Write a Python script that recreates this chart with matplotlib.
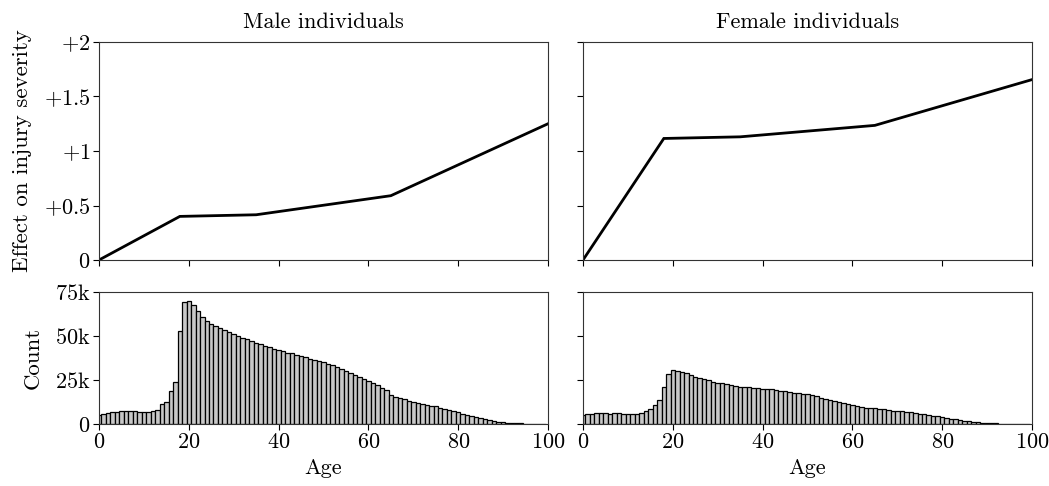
import matplotlib
matplotlib.use("Agg")
import matplotlib.pyplot as plt
import numpy as np

plt.rcParams['font.family'] = 'serif'
plt.rcParams['font.serif'] = ['cmr10']
plt.rcParams['mathtext.fontset'] = 'cm'
plt.rcParams['axes.unicode_minus'] = False
plt.rcParams['axes.formatter.use_mathtext'] = True

# Effect curves (piecewise linear, knots)
knot_ages = [0, 18, 35, 65, 100]
male_effect = [0.0, 0.40, 0.415, 0.59, 1.25]
female_effect = [0.0, 1.115, 1.13, 1.235, 1.655]

ages = list(range(100))
male_counts_k = [
    5.3, 5.9, 6.4, 6.8, 6.8, 7.2, 7.2, 7.4, 7.2, 7.0,
    7.0, 7.0, 7.2, 7.8, 11.2, 12.3, 19.0, 23.6, 52.6, 69.3,
    70.0, 67.4, 64.0, 60.8, 58.3, 57.0, 55.9, 54.4, 53.2, 52.3,
    51.1, 50.2, 48.9, 48.1, 47.2, 46.2, 45.5, 44.3, 43.6, 42.8,
    41.9, 41.5, 40.5, 40.1, 39.4, 38.6, 38.1, 37.1, 36.6, 35.8,
    35.2, 34.1, 33.3, 32.2, 31.3, 30.1, 29.0, 27.7, 26.7, 25.8,
    24.4, 23.3, 22.0, 20.6, 19.1, 16.3, 15.3, 14.6, 14.0, 13.2,
    12.6, 12.0, 11.5, 11.0, 10.5, 10.0, 9.3, 8.7, 8.0, 7.3,
    6.6, 5.9, 5.2, 4.5, 4.0, 3.4, 2.8, 2.2, 1.8, 1.4,
    1.0, 0.8, 0.6, 0.4, 0.3, 0.2, 0.15, 0.1, 0.08, 0.05,
]
female_counts_k = [
    4.9, 5.5, 5.9, 6.1, 6.1, 6.1, 5.9, 6.1, 6.1, 5.9,
    5.9, 5.9, 5.9, 6.3, 7.2, 8.5, 11.0, 13.4, 21.0, 28.6,
    30.4, 30.2, 29.7, 28.8, 27.6, 26.9, 26.3, 25.8, 25.0, 24.0,
    23.5, 23.1, 22.5, 22.0, 21.4, 21.0, 21.0, 20.8, 20.3, 20.3,
    20.1, 19.9, 19.7, 19.3, 18.9, 18.6, 18.2, 17.8, 17.6, 17.2,
    16.9, 16.3, 15.7, 15.0, 14.4, 13.8, 13.3, 12.7, 12.1, 11.4,
    10.8, 10.4, 9.8, 9.3, 9.1, 8.9, 8.7, 8.3, 8.0, 7.6,
    7.4, 7.2, 7.0, 6.6, 6.3, 5.9, 5.5, 5.1, 4.7, 4.4,
    4.0, 3.6, 3.0, 2.7, 2.3, 1.9, 1.5, 1.1, 0.9, 0.75,
    0.55, 0.4, 0.3, 0.2, 0.15, 0.12, 0.1, 0.08, 0.05, 0.04,
]

effect_ticks = [0, 0.5, 1, 1.5, 2]
effect_ticklabels = [r'$0$', r'$+0.5$', r'$+1$', r'$+1.5$', r'$+2$']
count_ticks = [0, 25000, 50000, 75000]
count_ticklabels = [r'$0$', r'$25\mathrm{k}$', r'$50\mathrm{k}$', r'$75\mathrm{k}$']
age_ticks = [0, 20, 40, 60, 80, 100]
age_ticklabels = [r'$0$', r'$20$', r'$40$', r'$60$', r'$80$', r'$100$']

W, H = 1049, 486
fig = plt.figure(figsize=(W / 100, H / 100), dpi=100)

def ax_px(l, r, t, b):
    return fig.add_axes([l / W, 1 - b / H, (r - l) / W, (b - t) / H])

FS = 16
panels = [
    ("Male individuals", male_effect, male_counts_k, 99, 548, True),
    ("Female individuals", female_effect, female_counts_k, 583, 1032, False),
]

for title, eff, cnts, l, r, first in panels:
    at = ax_px(l, r, 42, 260)
    ab = ax_px(l, r, 292, 424)
    at.plot(knot_ages, eff, color='black', lw=2.0, solid_joinstyle='miter')
    at.set_xlim(0, 100)
    at.set_ylim(0, 2)
    at.set_xticks(age_ticks)
    at.set_xticklabels([])
    at.set_yticks(effect_ticks)
    at.set_title(title, fontsize=FS, pad=10)
    ab.bar(ages, np.array(cnts) * 1000, width=1.0, color='#c8c8c8',
           edgecolor='black', linewidth=0.9, align='center')
    ab.set_xlim(0, 100)
    ab.set_ylim(0, 75000)
    ab.set_xticks(age_ticks)
    ab.set_xticklabels(age_ticklabels)
    ab.set_yticks(count_ticks)
    ab.set_xlabel('Age', fontsize=FS, labelpad=5)
    if first:
        at.set_yticklabels(effect_ticklabels)
        ab.set_yticklabels(count_ticklabels)
        at.set_ylabel('Effect on injury severity', fontsize=16.5, labelpad=9)
        ab.set_ylabel('Count', fontsize=16.5, labelpad=9)
    else:
        at.set_yticklabels([])
        ab.set_yticklabels([])
    for a in (at, ab):
        a.tick_params(direction='out', length=4, width=0.8, labelsize=FS, pad=2)
        for s in a.spines.values():
            s.set_linewidth(0.8)
            s.set_color('#333333')

fig.savefig('out.png', dpi=100)
